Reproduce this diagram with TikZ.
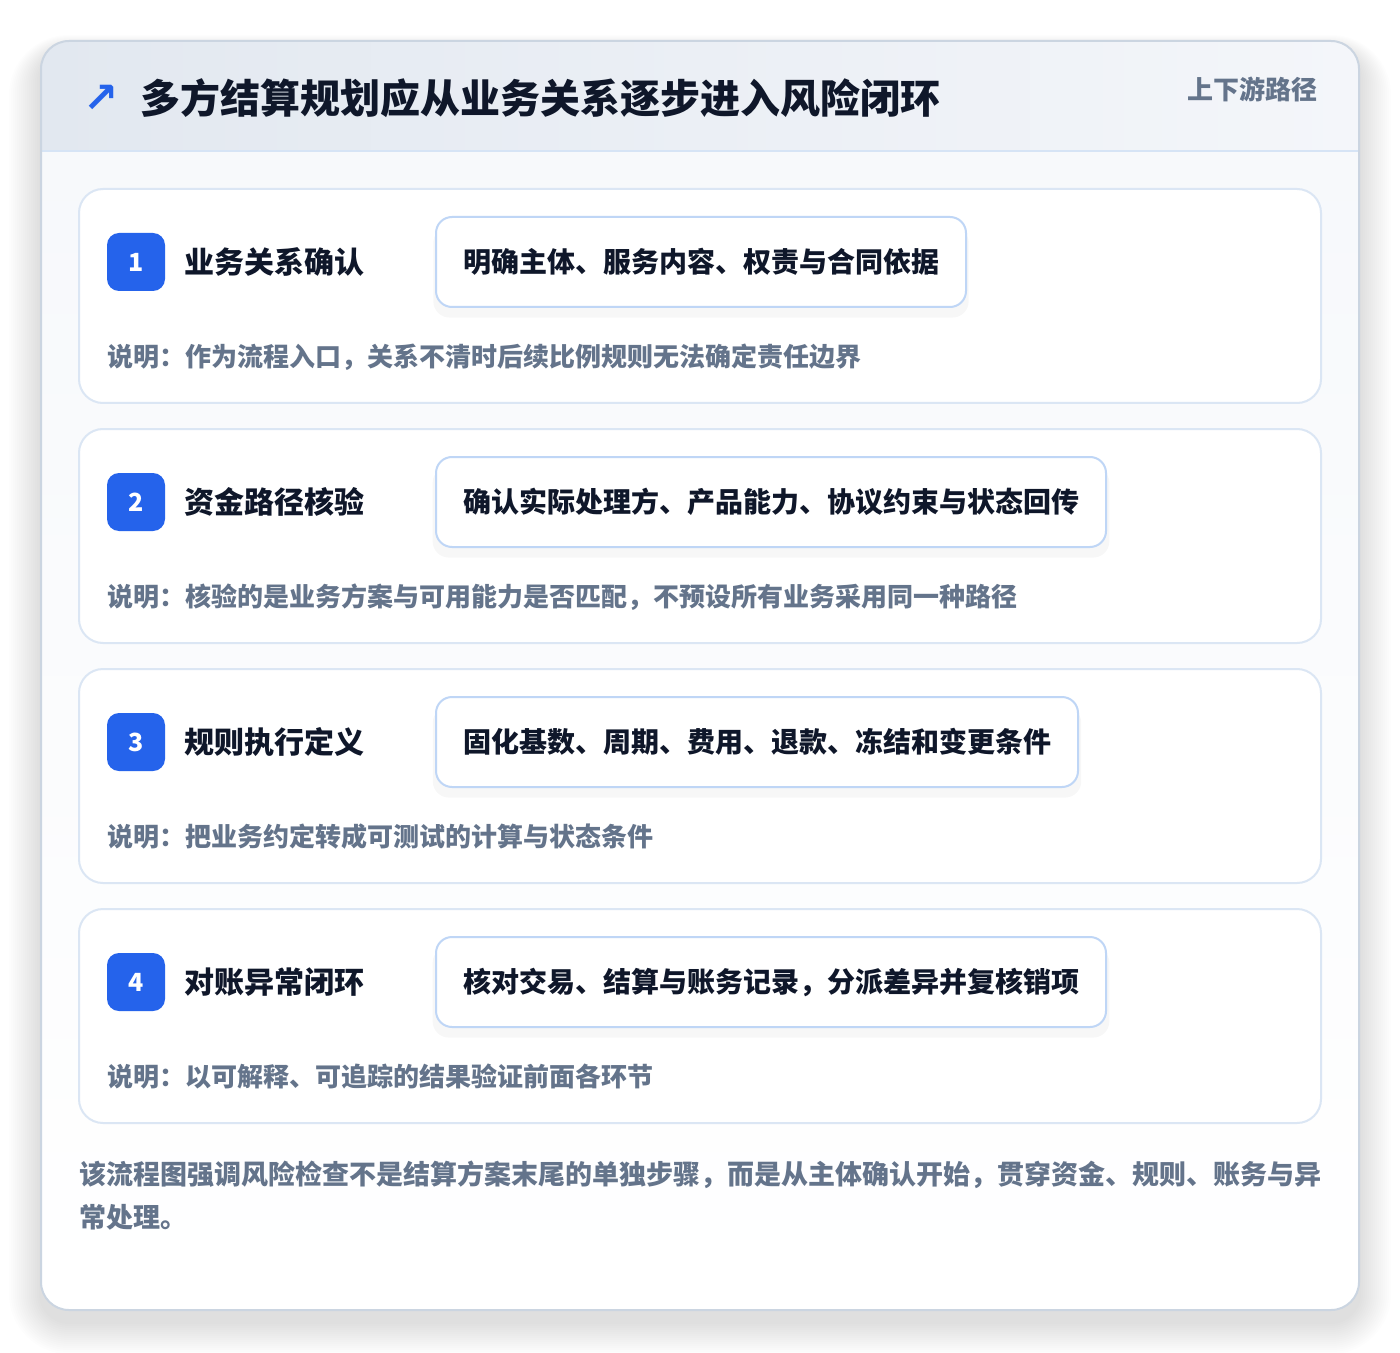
\documentclass[tikz,border=0pt]{standalone}
\usepackage{fontspec}
\setmainfont{Noto Sans CJK SC}
\newfontfamily\symfont{DejaVu Sans}
\usepackage{xcolor}
\usetikzlibrary{positioning,shadows}
\definecolor{brandblue}{HTML}{2563EB}
\definecolor{ink}{HTML}{0F172A}
\definecolor{muted}{HTML}{64748B}
\definecolor{outline}{HTML}{CBD5E1}
\definecolor{cardline}{HTML}{DBE6F4}
\definecolor{detailline}{HTML}{BFD6F6}
\definecolor{hdrleft}{HTML}{E2E8F0}
\definecolor{hdrright}{HTML}{F4F6FA}
\definecolor{hdrline}{HTML}{D6E4F5}
\definecolor{bodytop}{HTML}{F6F8FB}

\begin{document}
\begin{tikzpicture}[x=0.5pt, y=-0.5pt,
  stepcard/.style={draw=cardline, fill=white, line width=1pt, rounded corners=12pt},
  badge/.style={fill=brandblue, rounded corners=6pt, minimum size=29pt, inner sep=0pt,
    text=white, font=\bfseries\fontsize{12.5}{14}\selectfont},
  steptitle/.style={anchor=west, inner sep=0pt, text=ink, font=\bfseries\fontsize{15}{18}\selectfont},
  detail/.style={anchor=west, draw=detailline, fill=white, line width=1pt, rounded corners=8pt,
    minimum height=45pt, inner xsep=13.5pt, inner ysep=0pt, text=ink,
    font=\bfseries\fontsize{14}{17}\selectfont,
    drop shadow={shadow xshift=0pt, shadow yshift=-5pt, shadow scale=1.01, opacity=0.03, fill=black}},
  note/.style={anchor=west, inner sep=0pt, text=muted, font=\bfseries\fontsize{13}{16}\selectfont},
  foot/.style={anchor=west, inner sep=0pt, text=muted, font=\bfseries\fontsize{13.5}{21}\selectfont}
]
\useasboundingbox (0,0) rectangle (1400,1352);
\fill[white] (0,0) rectangle (1400,1352);

% Soft shadow round the outer card
\foreach \i in {1,...,16}
  \fill[black, opacity=0.006, rounded corners=14pt+\i pt]
    (41-2*\i,41-\i+10) rectangle (1359+2*\i,1310+2*\i+12);

% Outer card, header band and separator
\shade[top color=bodytop, bottom color=white, rounded corners=14pt] (41,41) rectangle (1359,1310);
\begin{scope}
  \clip[rounded corners=14pt] (41,41) rectangle (1359,1310);
  \shade[left color=hdrleft, right color=hdrright] (41,41) rectangle (1359,151);
\end{scope}
\draw[hdrline, line width=1pt] (41,151) -- (1359,151);
\draw[outline, line width=1pt, rounded corners=14pt] (41,41) rectangle (1359,1310);

% Header texts
\node[text=brandblue, inner sep=0pt, font=\symfont\bfseries\fontsize{21}{24}\selectfont] (icon) at (101,99) {↗};
\node[anchor=west, inner sep=0pt, text=ink, font=\bfseries\fontsize{20}{24}\selectfont] (title) at (140,98) {多方结算规划应从业务关系逐步进入风险闭环};
\node[anchor=east, inner sep=0pt, text=muted, font=\bfseries\fontsize{13}{16}\selectfont] (tag) at (1318,89) {上下游路径};

% Step 1: relationship
\draw[stepcard] (79,189) rectangle (1321,403);
\node[badge] (badge1) at (136,262) {1};
\node[steptitle, right=9.5pt of badge1] (title1) {业务关系确认};
\node[detail] (detail1) at (435,262) {明确主体、服务内容、权责与合同依据};
\node[note] (note1) at (107,357) {说明：作为流程入口，关系不清时后续比例规则无法确定责任边界};

% Step 2: funds path
\draw[stepcard] (79,429) rectangle (1321,643);
\node[badge] (badge2) at (136,502) {2};
\node[steptitle, right=9.5pt of badge2] (title2) {资金路径核验};
\node[detail] (detail2) at (435,502) {确认实际处理方、产品能力、协议约束与状态回传};
\node[note] (note2) at (107,597) {说明：核验的是业务方案与可用能力是否匹配，不预设所有业务采用同一种路径};

% Step 3: rules
\draw[stepcard] (79,669) rectangle (1321,883);
\node[badge] (badge3) at (136,742) {3};
\node[steptitle, right=9.5pt of badge3] (title3) {规则执行定义};
\node[detail] (detail3) at (435,742) {固化基数、周期、费用、退款、冻结和变更条件};
\node[note] (note3) at (107,837) {说明：把业务约定转成可测试的计算与状态条件};

% Step 4: reconciliation
\draw[stepcard] (79,909) rectangle (1321,1123);
\node[badge] (badge4) at (136,982) {4};
\node[steptitle, right=9.5pt of badge4] (title4) {对账异常闭环};
\node[detail] (detail4) at (435,982) {核对交易、结算与账务记录，分派差异并复核销项};
\node[note] (note4) at (107,1077) {说明：以可解释、可追踪的结果验证前面各环节};

% Closing remark
\node[foot] (footA) at (79,1175) {该流程图强调风险检查不是结算方案末尾的单独步骤，而是从主体确认开始，贯穿资金、规则、账务与异};
\node[foot, below=21pt of footA.west, anchor=west] (footB) {常处理。};

\end{tikzpicture}
\end{document}
